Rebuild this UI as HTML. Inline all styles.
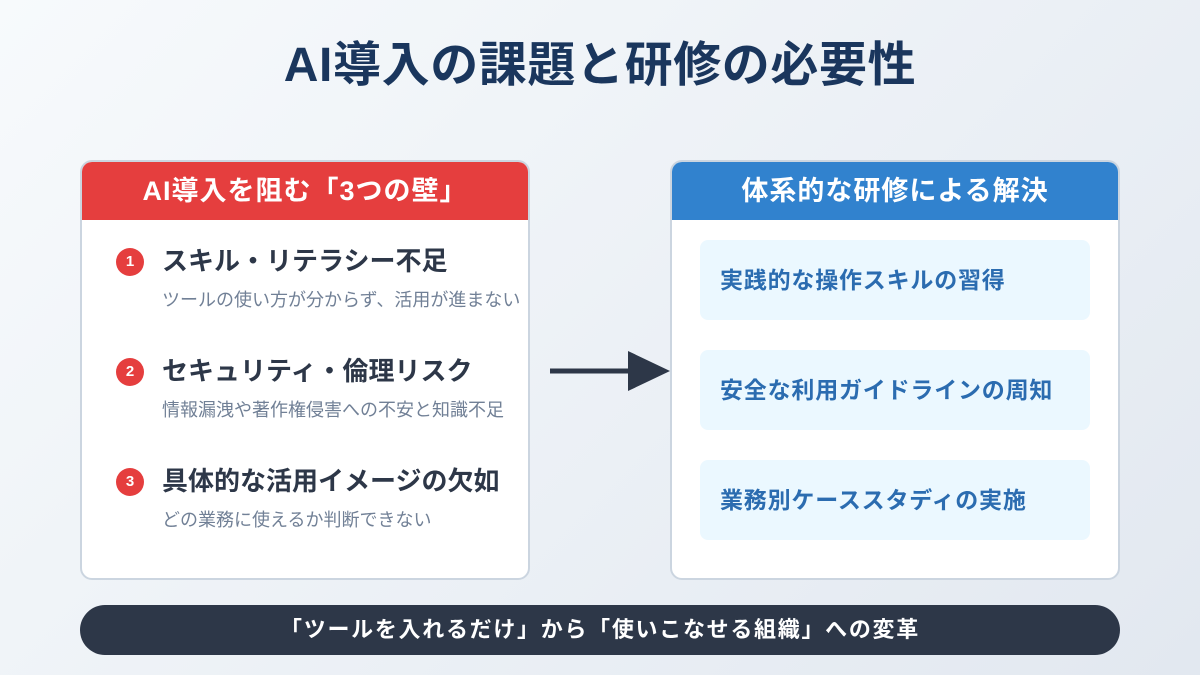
<!DOCTYPE html>
<html><head><meta charset="utf-8"><style>
*{margin:0;padding:0;box-sizing:border-box}
body{width:1200px;height:675px;overflow:hidden;position:relative;background:linear-gradient(135deg,#f7fafc,#e2e8f0);font-family:"Liberation Sans","Noto Sans CJK JP",sans-serif}
.t{position:absolute;left:0;width:1200px;top:36px;text-align:center;font-size:48px;font-weight:bold;color:#1a365d;line-height:60px;letter-spacing:.6px}
.card{position:absolute;top:160px;width:450px;height:420px;background:#fff;border:2px solid #cbd5e0;border-radius:12px;overflow:hidden}
.hd{height:58px;color:#fff;font-size:27px;font-weight:bold;text-align:center;line-height:58px;letter-spacing:1px}
.it{position:absolute;left:30px}
.num{position:absolute;left:4px;top:0;width:28px;height:28px;border-radius:50%;background:#e53e3e;color:#fff;font-size:15px;font-weight:bold;text-align:center;line-height:28px}
.tt{position:absolute;left:50px;top:-7px;white-space:nowrap;font-size:26px;font-weight:bold;color:#2d3748;line-height:40px;letter-spacing:0}
.sb{position:absolute;left:50px;top:40px;white-space:nowrap;font-size:18px;color:#718096;line-height:24px;letter-spacing:0}
.bx{position:absolute;left:28px;width:390px;height:80px;background:#ebf8ff;border-radius:8px;font-size:23px;font-weight:bold;color:#2b6cb0;line-height:80px;padding-left:20px;letter-spacing:.8px}
.bar{position:absolute;left:80px;top:605px;width:1040px;height:50px;border-radius:25px;background:#2d3748;color:#fff;font-size:22px;font-weight:bold;text-align:center;line-height:50px;letter-spacing:1.7px}
</style></head><body>
<div class="t">AI導入の課題と研修の必要性</div>
<div class="card" style="left:80px">
<div class="hd" style="background:#e53e3e">AI導入を阻む「3つの壁」</div>
<div class="it" style="top:86px"><div class="num">1</div><div class="tt">スキル・リテラシー不足</div><div class="sb">ツールの使い方が分からず、活用が進まない</div></div>
<div class="it" style="top:196px"><div class="num">2</div><div class="tt">セキュリティ・倫理リスク</div><div class="sb">情報漏洩や著作権侵害への不安と知識不足</div></div>
<div class="it" style="top:306px"><div class="num">3</div><div class="tt">具体的な活用イメージの欠如</div><div class="sb">どの業務に使えるか判断できない</div></div>
</div>
<svg style="position:absolute;left:0;top:0" width="1200" height="675"><line x1="550" y1="371" x2="635" y2="371" stroke="#2d3748" stroke-width="5"/><polygon points="628,351 670,371 628,391" fill="#2d3748"/></svg>
<div class="card" style="left:670px">
<div class="hd" style="background:#3182ce">体系的な研修による解決</div>
<div class="bx" style="top:78px">実践的な操作スキルの習得</div>
<div class="bx" style="top:188px">安全な利用ガイドラインの周知</div>
<div class="bx" style="top:298px">業務別ケーススタディの実施</div>
</div>
<div class="bar">「ツールを入れるだけ」から「使いこなせる組織」への変革</div>
</body></html>
